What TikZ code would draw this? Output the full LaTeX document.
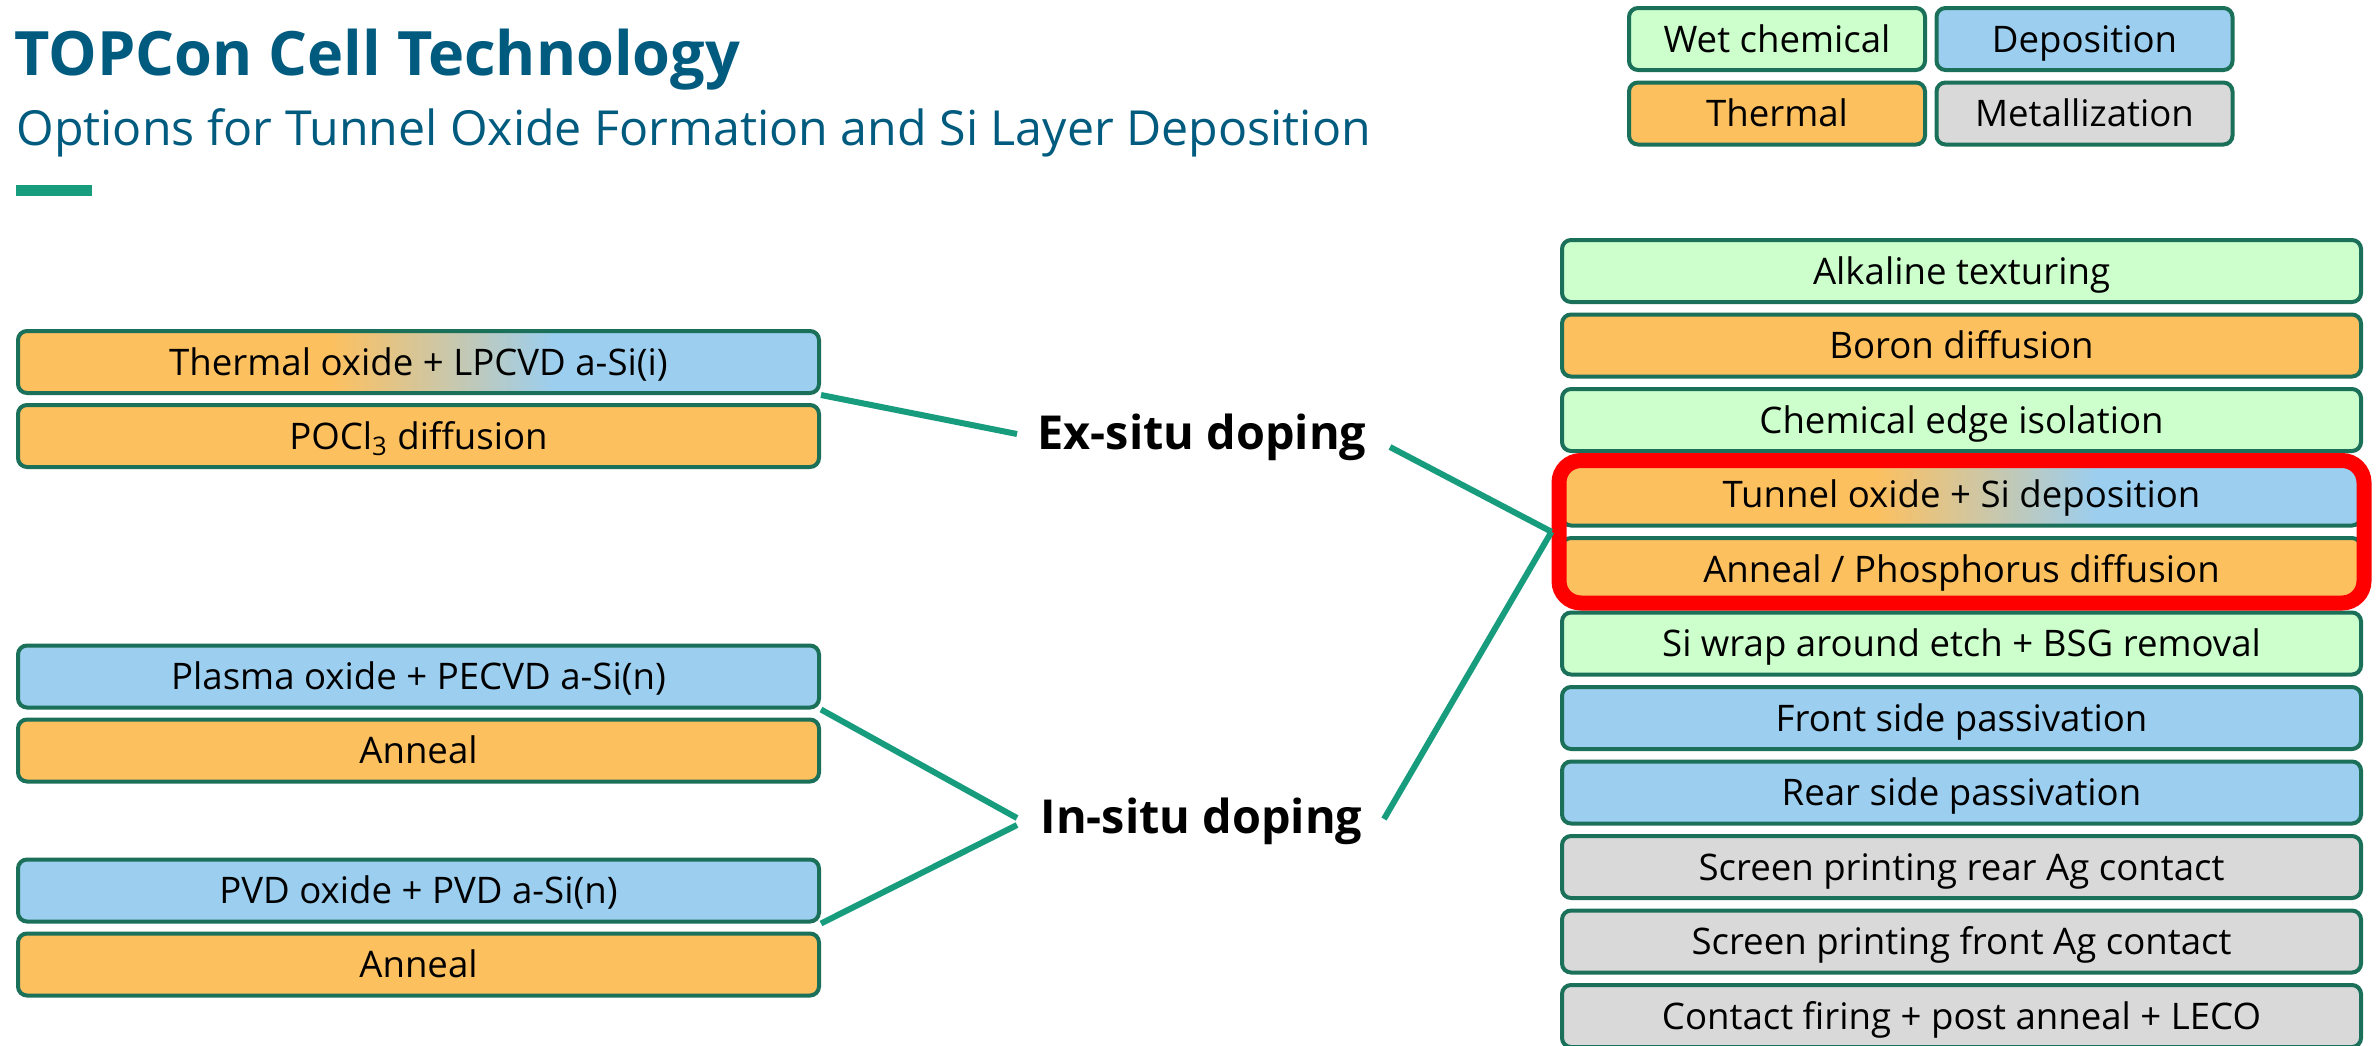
\documentclass[tikz,border=0pt]{standalone}
\usepackage{fontspec}
\setmainfont{Open Sans}
\usetikzlibrary{fit}
\definecolor{ttl}{HTML}{005B7F}
\definecolor{fgreen}{HTML}{179C7D}
\definecolor{bord}{HTML}{1B7059}
\definecolor{wetc}{HTML}{CCFFCC}
\definecolor{thermc}{HTML}{FDC05F}
\definecolor{depoc}{HTML}{9BCEEF}
\definecolor{metc}{HTML}{D9D9D9}
\definecolor{redc}{HTML}{FF0000}
\pgfdeclarehorizontalshading{orblue}{100bp}{color(0bp)=(thermc); color(44.5bp)=(thermc); color(58.5bp)=(depoc); color(100bp)=(depoc)}
\begin{document}
\begin{tikzpicture}[x=0.5pt,y=-0.5pt,
  box/.style={draw=bord, line width=2pt, rounded corners=4.5pt, minimum height=31pt, inner sep=0pt,
    font=\fontsize{18.3}{20}\selectfont, text height=13.05pt, text depth=0pt},
  rbox/.style={box, minimum width=399.5pt},
  lbox/.style={box, minimum width=400.5pt},
  gbox/.style={box, minimum width=148pt},
  wet/.style={fill=wetc}, therm/.style={fill=thermc}, depo/.style={fill=depoc}, met/.style={fill=metc},
  mix/.style={shade, shading=orblue},
  conn/.style={draw=fgreen, line width=3pt},
  dop/.style={font=\fontsize{23.4}{26}\selectfont\bfseries, text height=16.7pt, text depth=0pt, inner sep=0pt}
]
\useasboundingbox (0,0) rectangle (2379,1045);
\fill[white] (0,0) rectangle (2379,1045);

% title
\node[anchor=base west, inner sep=0pt, text=ttl, font=\fontsize{30.6}{32}\selectfont\bfseries] (title) at (14,75) {TOPCon Cell Technology};
\node[anchor=base west, inner sep=0pt, text=ttl, font=\fontsize{24.15}{27}\selectfont] (subtitle) at (16,145) {Options for Tunnel Oxide Formation and Si Layer Deposition};
\fill[fgreen] (16,185) rectangle (92,196);

% legend
\node[gbox, wet] (lgwet) at (1777,39) {Wet chemical};
\node[gbox, depo] (lgdepo) at (2084.5,39) {Deposition};
\node[gbox, therm] (lgtherm) at (1777,113.5) {Thermal};
\node[gbox, met] (lgmet) at (2084.5,113.5) {Metallization};

% process flow (right)
\node[rbox, wet] (alk) at (1961.5,271) {Alkaline texturing};
\node[rbox, therm] (bor) at (1961.5,345.5) {Boron diffusion};
\node[rbox, wet] (edge) at (1961.5,420) {Chemical edge isolation};
\node[rbox, mix] (tun) at (1961.5,494.5) {Tunnel oxide + Si deposition};
\node[rbox, therm] (ann) at (1961.5,569) {Anneal / Phosphorus diffusion};
\node[rbox, wet] (wrap) at (1961.5,643.5) {Si wrap around etch + BSG removal};
\node[rbox, depo] (front) at (1961.5,718) {Front side passivation};
\node[rbox, depo] (rear) at (1961.5,792.5) {Rear side passivation};
\node[rbox, met] (sprear) at (1961.5,867) {Screen printing rear Ag contact};
\node[rbox, met] (spfront) at (1961.5,941.5) {Screen printing front Ag contact};
\node[rbox, met] (fire) at (1961.5,1016) {Contact firing + post anneal + LECO};
\node[fit=(tun)(ann), inner sep=0.5pt, draw=redc, line width=7.5pt, rounded corners=11pt] (redbox) {};

% options (left)
\node[lbox, mix] (thox) at (418.5,362) {Thermal oxide + LPCVD a-Si(i)};
\node[lbox, therm] (pocl) at (418.5,436) {POCl\textsubscript{3} diffusion};
\node[lbox, depo] (plasma) at (418.5,676.5) {Plasma oxide + PECVD a-Si(n)};
\node[lbox, therm] (annA) at (418.5,750.5) {Anneal};
\node[lbox, depo] (pvd) at (418.5,890.5) {PVD oxide + PVD a-Si(n)};
\node[lbox, therm] (annB) at (418.5,964.5) {Anneal};

% doping labels
\node[dop] (ex) at (1202,433) {Ex-situ doping};
\node[dop] (in) at (1201.5,817) {In-situ doping};

\coordinate (exl) at (1017,434);
\coordinate (exr) at (1390,447);
\coordinate (inl1) at (1017,818);
\coordinate (inl2) at (1017,825);
\coordinate (inr) at (1384,819);
\coordinate (hub) at (redbox.west);

\draw[conn] (thox.south east) -- (exl);
\draw[conn] (exr) -- (hub);
\draw[conn] (plasma.south east) -- (inl1);
\draw[conn] (pvd.south east) -- (inl2);
\draw[conn] (inr) -- (hub);
\end{tikzpicture}
\end{document}
